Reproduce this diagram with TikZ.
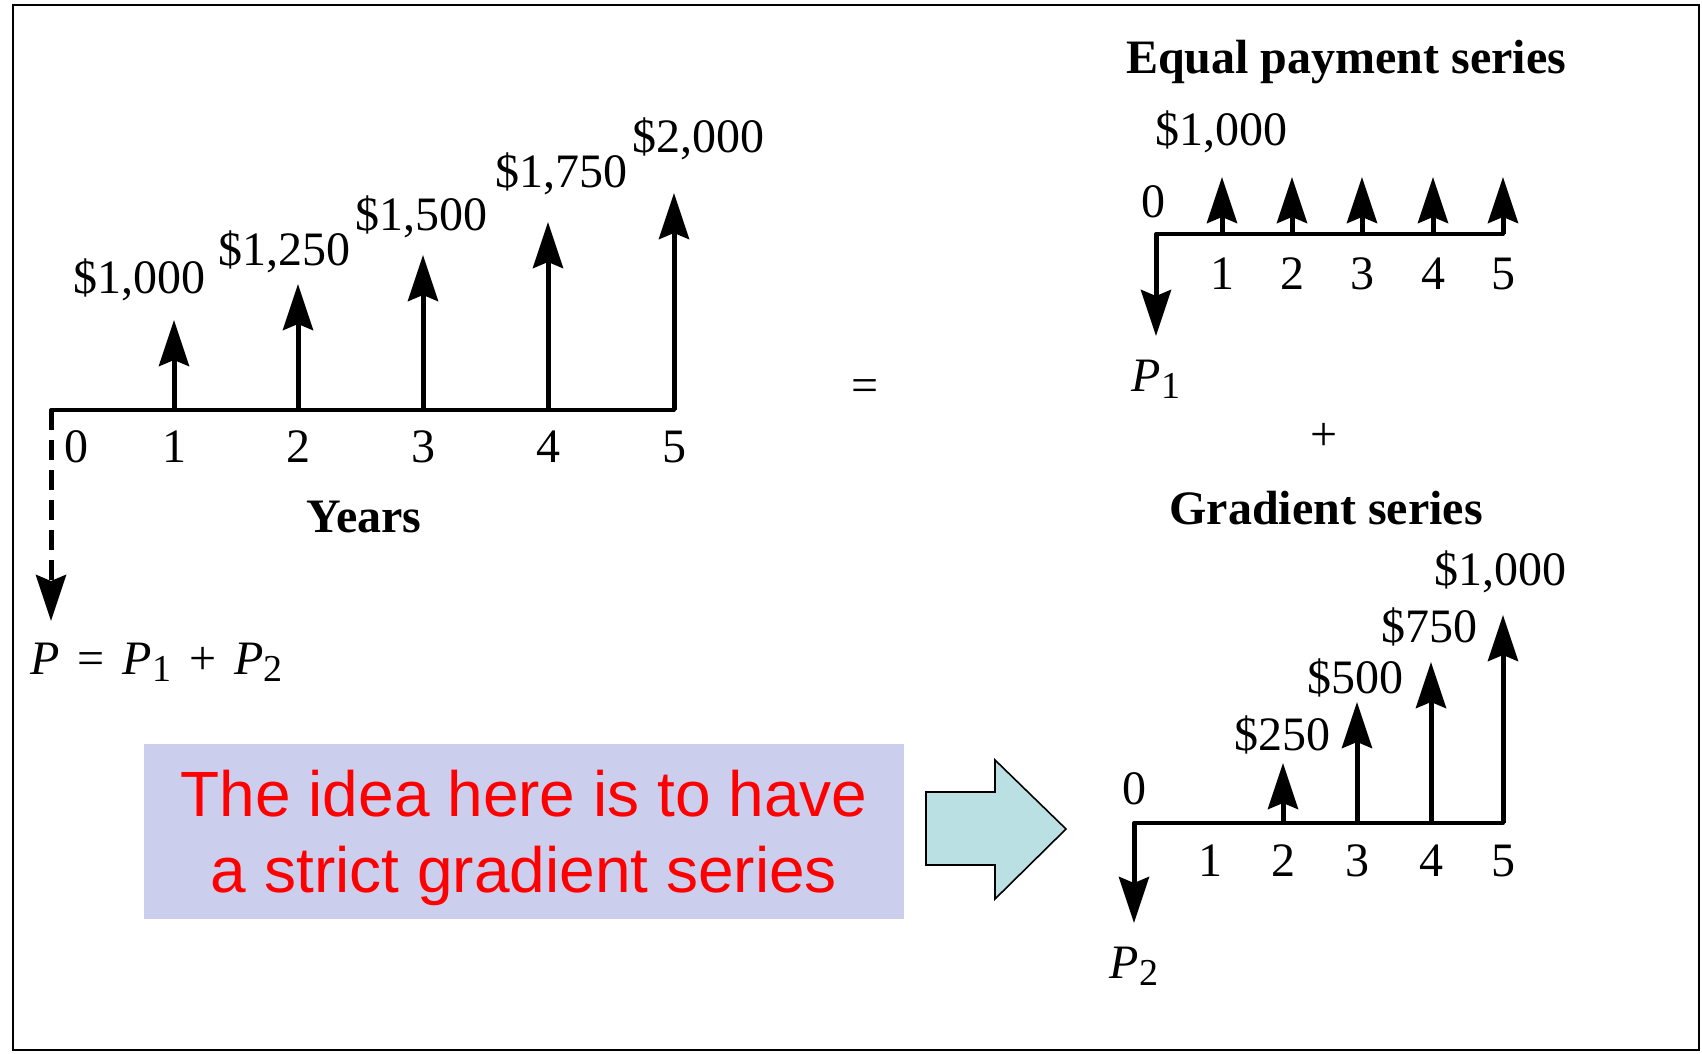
\documentclass[tikz,border=0pt]{standalone}
\usepackage{fontspec}
\setmainfont{Liberation Serif}
\newfontfamily\notefont{Liberation Sans}
\usepackage{tikz}
\usetikzlibrary{positioning,arrows.meta}

\definecolor{notebg}{RGB}{204,206,238}
\definecolor{hintbg}{RGB}{187,224,227}

\newcommand{\sub}[1]{\raisebox{-0.3ex}{\fontsize{19}{20}\selectfont #1}}
\newcommand{\gap}{\hspace{9pt}}

\begin{document}
\begin{tikzpicture}[x=0.5pt, y=-0.5pt,
			lbl/.style={font=\fontsize{24}{28}\selectfont, inner sep=0pt},
			ttl/.style={font=\fontsize{24}{28}\selectfont\bfseries, inner sep=0pt},
			axis/.style={line width=2pt, line cap=round},
			flow/.style={line width=2.5pt, -{Stealth[length=23pt, width=15pt, inset=3pt]}},
			note/.style={fill=notebg, minimum width=380pt, minimum height=87.5pt, align=center, text=red, font=\notefont\fontsize{32}{38}\selectfont},
			hint/.style={draw, line width=0.8pt, fill=hintbg}]
			
			\useasboundingbox (0,0) rectangle (1702,1054);
			\draw[line width=1.2pt] (13,5) rectangle (1699,1050);
			
			% whole cash flow
			\coordinate (o) at (51,410);
			\coordinate (y1) at (174,410);
			\coordinate (y2) at (298,410);
			\coordinate (y3) at (423,410);
			\coordinate (y4) at (548,410);
			\coordinate (y5) at (674,410);
			\coordinate (c1) at (174,320);
			\coordinate (c2) at (298,284);
			\coordinate (c3) at (423,255);
			\coordinate (c4) at (548,222);
			\coordinate (c5) at (674,193);
			\coordinate (p) at (51,621);
			
			\draw[axis] (o) -- (y5);
			\draw[flow] (y1) -- (c1);
			\draw[flow] (y2) -- (c2);
			\draw[flow] (y3) -- (c3);
			\draw[flow] (y4) -- (c4);
			\draw[flow] (y5) -- (c5);
			\draw[flow, dash pattern=on 10pt off 5pt] (o) -- (p);
			
			\node[lbl] (m1) at (139,280) {\$1,000};
			\node[lbl] (m2) at (284,252) {\$1,250};
			\node[lbl] (m3) at (421,217) {\$1,500};
			\node[lbl] (m4) at (561,174) {\$1,750};
			\node[lbl] (m5) at (698,139) {\$2,000};
			
			\node[lbl] (t0) at (76,447) {0};
			\node[lbl] (t1) at (174,447) {1};
			\node[lbl] (t2) at (298,447) {2};
			\node[lbl] (t3) at (423,447) {3};
			\node[lbl] (t4) at (548,447) {4};
			\node[lbl] (t5) at (674,447) {5};
			\node[ttl] (years) at (364,517) {Years};
			\node[lbl, anchor=west] (psum) at (30,662) {\textit{P}\gap=\gap\textit{P}\sub{1}\gap+\gap\textit{P}\sub{2}};
			
			\node[lbl] (eq) at (865,391) {=};
			
			% equal payment series
			\node[ttl] (eqtitle) at (1346,62) {Equal payment series};
			\node[lbl] (eqamt) at (1221,132) {\$1,000};
			\coordinate (e0) at (1156,234);
			\coordinate (e1) at (1222,234);
			\coordinate (e2) at (1292,234);
			\coordinate (e3) at (1362,234);
			\coordinate (e4) at (1433,234);
			\coordinate (e5) at (1503,234);
			\coordinate (f1) at (1222,177);
			\coordinate (f2) at (1292,177);
			\coordinate (f3) at (1362,177);
			\coordinate (f4) at (1433,177);
			\coordinate (f5) at (1503,177);
			\coordinate (e0d) at (1156,336);
			
			\draw[axis] (e0) -- (e5);
			\draw[flow] (e1) -- (f1);
			\draw[flow] (e2) -- (f2);
			\draw[flow] (e3) -- (f3);
			\draw[flow] (e4) -- (f4);
			\draw[flow] (e5) -- (f5);
			\draw[flow] (e0) -- (e0d);
			
			\node[lbl] (u0) at (1153,202) {0};
			\node[lbl] (u1) at (1222,274) {1};
			\node[lbl] (u2) at (1292,274) {2};
			\node[lbl] (u3) at (1362,274) {3};
			\node[lbl] (u4) at (1433,274) {4};
			\node[lbl] (u5) at (1503,274) {5};
			\node[lbl, below=12pt of e0d] (p1) {\textit{P}\sub{1}};
			
			\node[lbl] (plus) at (1324,437) {+};
			
			% gradient series
			\node[ttl] (grtitle) at (1326,508) {Gradient series};
			\coordinate (g0) at (1134,823);
			\coordinate (g2) at (1283,823);
			\coordinate (g3) at (1357,823);
			\coordinate (g4) at (1431,823);
			\coordinate (g5) at (1503,823);
			\coordinate (h2) at (1283,763);
			\coordinate (h3) at (1357,702);
			\coordinate (h4) at (1431,662);
			\coordinate (h5) at (1503,615);
			\coordinate (g0d) at (1134,923);
			
			\draw[axis] (g0) -- (g5);
			\draw[flow] (g2) -- (h2);
			\draw[flow] (g3) -- (h3);
			\draw[flow] (g4) -- (h4);
			\draw[flow] (g5) -- (h5);
			\draw[flow] (g0) -- (g0d);
			
			\node[lbl] (k2) at (1282,735) {\$250};
			\node[lbl] (k3) at (1355,678) {\$500};
			\node[lbl] (k4) at (1429,627) {\$750};
			\node[lbl] (k5) at (1500,572) {\$1,000};
			\node[lbl] (v0) at (1134,789) {0};
			\node[lbl] (v1) at (1210,861) {1};
			\node[lbl] (v2) at (1283,861) {2};
			\node[lbl] (v3) at (1357,861) {3};
			\node[lbl] (v4) at (1431,861) {4};
			\node[lbl] (v5) at (1503,861) {5};
			\node[lbl, below=12pt of g0d] (p2) {\textit{P}\sub{2}};
			
			% remark
			\node[note] (idea) at (524,831.5) {\rule{0pt}{30pt}The idea here is to have\\a strict gradient series};
			\draw[hint] (926,792) -- (995,792) -- (995,760) -- (1066,829) -- (995,899) -- (995,865) -- (926,865) -- cycle;
			
		\end{tikzpicture}
\end{document}
